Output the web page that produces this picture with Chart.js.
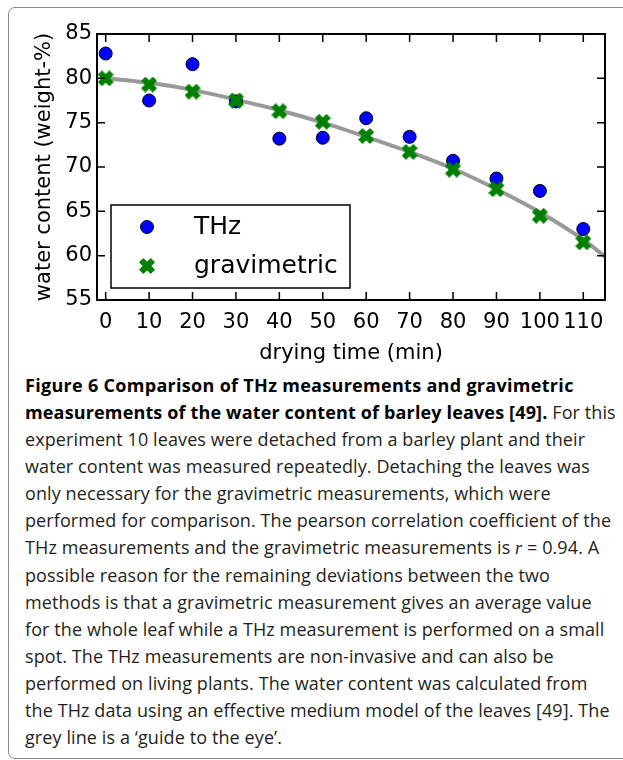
<!DOCTYPE html>
<html>
<head>
<meta charset="utf-8">
<script src="https://cdn.jsdelivr.net/npm/chart.js@4.4.0/dist/chart.umd.min.js"></script>
<style>
  html, body { margin:0; padding:0; background:#fff; width:623px; height:760px; overflow:hidden; }
  #frame { position:absolute; left:8px; top:7px; width:720px; height:752px; border:1px solid #8a8a8a; border-radius:7px; box-sizing:border-box; }
  #wrap { position:absolute; left:0; top:0; width:623px; height:366px; }
  #caption { position:absolute; left:25px; top:372px; font-family:"Open Sans", sans-serif; font-size:18px; line-height:27px; color:#231f20; white-space:nowrap; letter-spacing:0.1px; }
  #caption b { font-weight:bold; color:#000; letter-spacing:0.15px; }
  #caption i { font-family:"Liberation Serif", serif; }
</style>
</head>
<body>
<div id="frame"></div>
<div id="wrap"><canvas id="c" width="623" height="366"></canvas></div>
<div id="caption">
<b style="letter-spacing:0.3px">Figure 6 Comparison of THz measurements and gravimetric</b><br>
<b>measurements of the water content of barley leaves [49].</b> For this<br>
experiment 10 leaves were detached from a barley plant and their<br>
water content was measured repeatedly. Detaching the leaves was<br>
only necessary for the gravimetric measurements, which were<br>
performed for comparison. The pearson correlation coefficient of the<br>
THz measurements and the gravimetric measurements is <i>r</i> = 0.94. A<br>
possible reason for the remaining deviations between the two<br>
methods is that a gravimetric measurement gives an average value<br>
for the whole leaf while a THz measurement is performed on a small<br>
spot. The THz measurements are non-invasive and can also be<br>
performed on living plants. The water content was calculated from<br>
the THz data using an effective medium model of the leaves [49]. The<br>
grey line is a ‘guide to the eye’.
</div>
<script>
// ---- data ----
const times       = [0, 10, 20, 30, 40, 50, 60, 70, 80, 90, 100, 110];
const thzValues   = [82.8, 77.5, 81.6, 77.4, 73.2, 73.3, 75.5, 73.4, 70.7, 68.7, 67.3, 63.0];
const gravValues  = [80.0, 79.3, 78.5, 77.5, 76.3, 75.1, 73.5, 71.7, 69.7, 67.5, 64.5, 61.5];
const guideTimes  = [0, 10, 20, 30, 40, 50, 60, 70, 80, 90, 100, 110, 115];
const guideValues = [80.0, 79.5, 78.7, 77.6, 76.4, 75.0, 73.4, 71.7, 69.8, 67.5, 64.9, 61.8, 59.9];
const xTicks      = [0, 10, 20, 30, 40, 50, 60, 70, 80, 90, 100, 110];
const yTicks      = [55, 60, 65, 70, 75, 80, 85];
const seriesNames = ['THz', 'gravimetric'];
const xTitle = 'drying time (min)';
const yTitle = 'water content (weight-%)';

const FONT = '"DejaVu Sans", sans-serif';

function makeXMarker(size, color) {
  const c = document.createElement('canvas');
  c.width = size; c.height = size;
  const g = c.getContext('2d');
  const pts = [[0.25,0],[0.5,0.25],[0.75,0],[1,0.25],[0.75,0.5],[1,0.75],[0.75,1],[0.5,0.75],[0.25,1],[0,0.75],[0.25,0.5],[0,0.25]];
  g.beginPath();
  pts.forEach(([x, y], i) => {
    const px = 0.5 + x * (size - 1), py = 0.5 + y * (size - 1);
    if (i) g.lineTo(px, py); else g.moveTo(px, py);
  });
  g.closePath();
  g.fillStyle = color; g.fill();
  g.strokeStyle = color; g.lineWidth = 1; g.stroke();
  return c;
}
const xMarker = makeXMarker(16, '#008000');

const frameTicks = {
  id: 'frameTicks',
  afterDatasetsDraw(chart) {
    const { ctx, chartArea: a, scales: { x, y } } = chart;
    ctx.save();
    ctx.strokeStyle = '#000';
    ctx.lineWidth = 1.5;
    const L = 8;
    ctx.beginPath();
    xTicks.forEach(v => {
      const p = x.getPixelForValue(v);
      ctx.moveTo(p, a.bottom); ctx.lineTo(p, a.bottom - L);
      ctx.moveTo(p, a.top); ctx.lineTo(p, a.top + L);
    });
    yTicks.forEach(v => {
      const p = y.getPixelForValue(v);
      ctx.moveTo(a.left, p); ctx.lineTo(a.left + L, p);
      ctx.moveTo(a.right, p); ctx.lineTo(a.right - L, p);
    });
    ctx.stroke();
    ctx.lineWidth = 2;
    ctx.strokeRect(a.left, a.top, a.right - a.left, a.bottom - a.top);

    // legend box inside the axes (lower left)
    const bx = a.left + 14, by = a.top + 171, bw = 239, bh = 83;
    ctx.fillStyle = '#fff';
    ctx.fillRect(bx, by, bw, bh);
    ctx.lineWidth = 1.5;
    ctx.strokeRect(bx, by, bw, bh);
    const rows = [by + 22, by + 61];
    const mx = bx + 36, tx = bx + 83;
    ctx.beginPath();
    ctx.arc(mx, rows[0], 6.5, 0, Math.PI * 2);
    ctx.fillStyle = '#0000ff'; ctx.fill();
    ctx.lineWidth = 1; ctx.strokeStyle = '#000'; ctx.stroke();
    ctx.drawImage(xMarker, mx - xMarker.width / 2, rows[1] - xMarker.height / 2);
    ctx.fillStyle = '#000';
    ctx.font = '25px ' + FONT;
    ctx.textBaseline = 'middle';
    ctx.textAlign = 'left';
    ctx.fillText(seriesNames[0], tx, rows[0]);
    ctx.fillText(seriesNames[1], tx, rows[1]);
    ctx.restore();
  }
};

new Chart(document.getElementById('c'), {
  type: 'scatter',
  data: {
    datasets: [
      {
        label: seriesNames[1],
        data: times.map((t, i) => ({ x: t, y: gravValues[i] })),
        pointStyle: xMarker,
        pointRadius: 8,
        order: 1
      },
      {
        label: seriesNames[0],
        data: times.map((t, i) => ({ x: t, y: thzValues[i] })),
        pointStyle: 'circle',
        pointRadius: 6.5,
        backgroundColor: '#0000ff',
        borderColor: '#000',
        borderWidth: 1,
        order: 2
      },
      {
        label: 'guide',
        type: 'line',
        data: guideTimes.map((t, i) => ({ x: t, y: guideValues[i] })),
        showLine: true,
        borderColor: '#999999',
        borderWidth: 4,
        pointRadius: 0,
        cubicInterpolationMode: 'monotone',
        fill: false,
        order: 3
      }
    ]
  },
  options: {
    responsive: false,
    animation: false,
    devicePixelRatio: 1,
    layout: { padding: { left: 32, top: 34, right: 18, bottom: 0 } },
    plugins: { legend: { display: false }, tooltip: { enabled: false } },
    scales: {
      x: {
        type: 'linear', min: -2, max: 115,
        grid: { display: false, drawTicks: false },
        border: { display: false },
        afterBuildTicks: s => { s.ticks = xTicks.map(v => ({ value: v })); },
        afterFit: s => { s.height = 66; },
        ticks: { font: { family: FONT, size: 21 }, color: '#000', padding: 10, maxRotation: 0, autoSkip: false },
        title: { display: true, text: xTitle, font: { family: FONT, size: 21 }, color: '#000', padding: 0 }
      },
      y: {
        min: 55, max: 85,
        grid: { display: false, drawTicks: false },
        border: { display: false },
        afterBuildTicks: s => { s.ticks = yTicks.map(v => ({ value: v })); },
        afterFit: s => { s.width = 65; },
        ticks: { font: { family: FONT, size: 21 }, color: '#000', padding: 5, autoSkip: false },
        title: { display: true, text: yTitle, font: { family: FONT, size: 21 }, color: '#000', padding: 0 }
      }
    }
  },
  plugins: [frameTicks]
});
</script>
</body>
</html>
